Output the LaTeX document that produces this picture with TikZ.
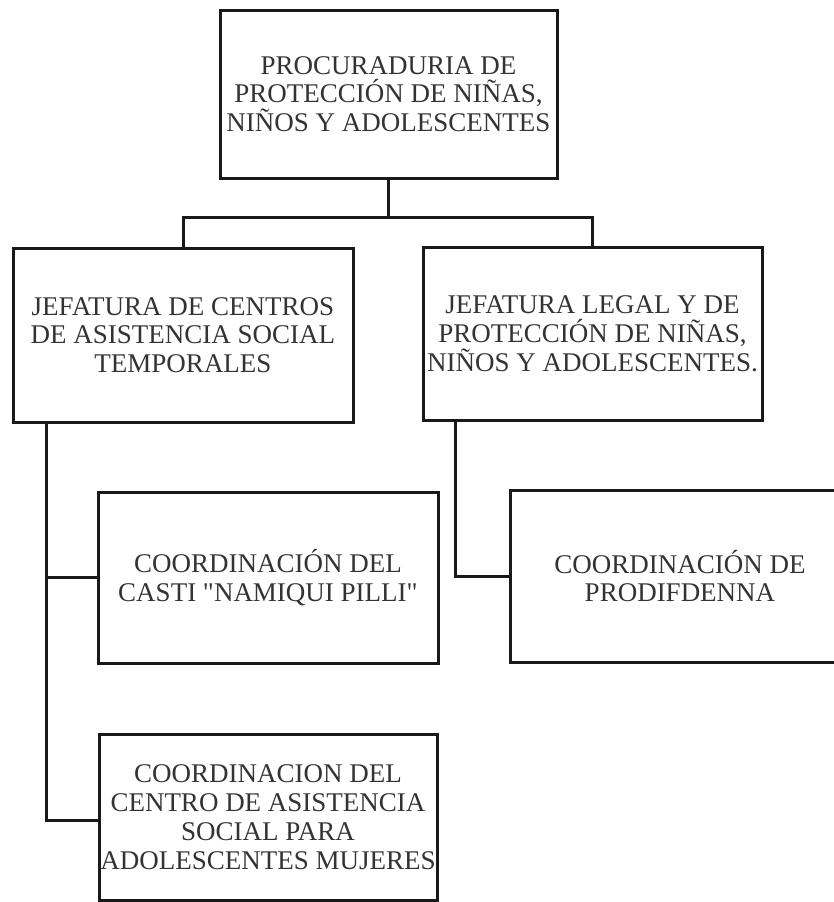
\documentclass[tikz,border=0pt]{standalone}
\usepackage{fontspec}
\setmainfont{Liberation Serif}
\usepackage{tikz}
\usetikzlibrary{positioning,calc}

\begin{document}
\begin{tikzpicture}[x=0.5pt,y=-0.5pt,
    orgbox/.style={draw=black!90, line width=1.5pt, align=center, inner sep=0pt,
        text=black!80, font=\fontsize{13.5}{14.4}\selectfont},
    link/.style={draw=black!90, line width=1.5pt}]
            % page frame, the scan cuts the last boxes
            \clip (0,0) rectangle (834,902);
            % head of the chart
            \node[orgbox, minimum width=168.5pt, minimum height=84pt] (procu) at (388.5,94)
                {PROCURADURIA DE\\PROTECCIÓN DE NIÑAS,\\NIÑOS Y ADOLESCENTES};
            % the two jefaturas
            \node[orgbox, minimum width=170pt, minimum height=87pt] (jcentros) at (183,335)
                {JEFATURA DE CENTROS\\DE ASISTENCIA SOCIAL\\TEMPORALES};
            \node[orgbox, minimum width=169.5pt, minimum height=86.5pt] (jlegal) at (592.5,333.5)
                {JEFATURA LEGAL Y DE\\PROTECCIÓN DE NIÑAS,\\NIÑOS Y ADOLESCENTES.};
            % coordinaciones
            \node[orgbox, minimum width=170pt, minimum height=85.5pt] (casti) at (268,577.5)
                {COORDINACIÓN DEL\\CASTI \textquotedbl NAMIQUI PILLI\textquotedbl};
            \node[orgbox, minimum width=170pt, minimum height=86pt] (prodif) at (680,576)
                {COORDINACIÓN DE\\PRODIFDENNA};
            \node[orgbox, minimum width=169pt, minimum height=83pt] (mujeres) at (268,817)
                {COORDINACION DEL\\CENTRO DE ASISTENCIA\\SOCIAL PARA\\ADOLESCENTES MUJERES};
            % lines from the head to the jefaturas
            \coordinate (bus) at (388.5,217);
            \draw[link] (procu.south) -- (bus);
            \draw[link] (jcentros.north) |- (bus) -| (jlegal.north);
            % lines down to the coordinaciones
            \coordinate (spinel) at ($(jcentros.south west)+(35,0)$);
            \draw[link] (spinel) |- (casti.west);
            \draw[link] (spinel) |- ($(mujeres.west)+(0,3)$);
            \coordinate (spiner) at ($(jlegal.south west)+(34,0)$);
            \draw[link] (spiner) |- (prodif.west);
        \end{tikzpicture}
\end{document}
